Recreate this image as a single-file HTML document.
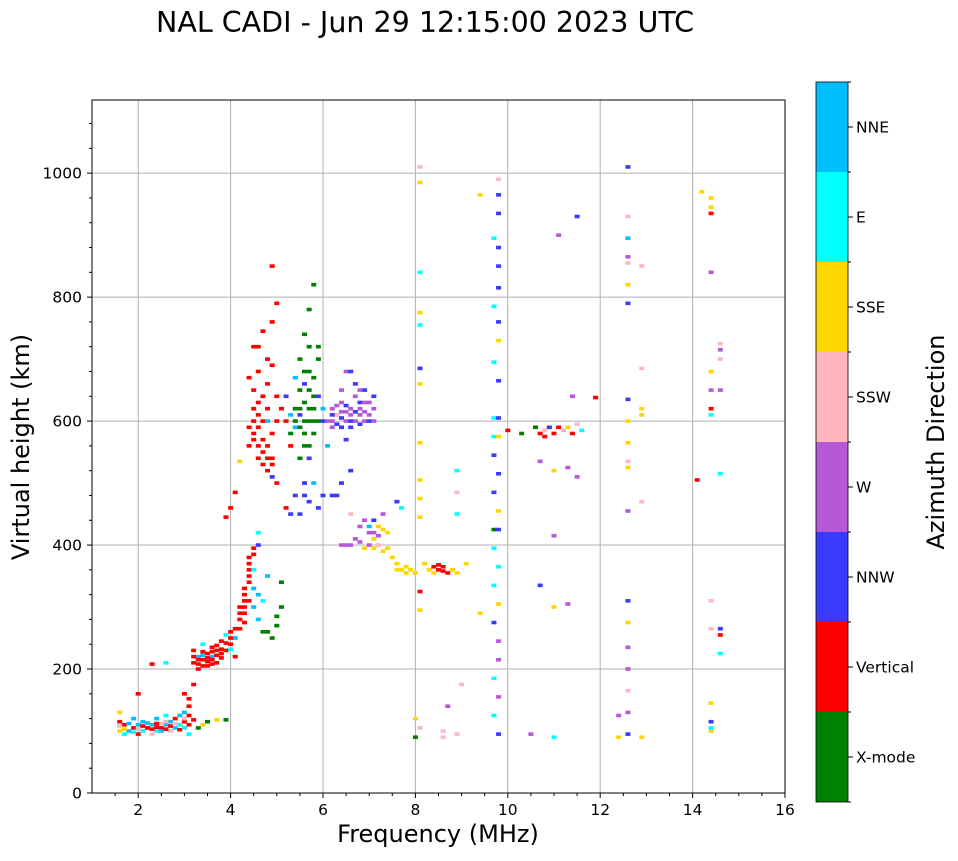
<!DOCTYPE html>
<html><head><meta charset="utf-8"><style>
body{margin:0;background:#fff;width:958px;height:857px;overflow:hidden;font-family:"DejaVu Sans",sans-serif}
</style></head><body>
<svg id="chart" width="958" height="857" xmlns="http://www.w3.org/2000/svg" font-family="DejaVu Sans, Liberation Sans, sans-serif">
<text x="425" y="32" font-size="28.5" text-anchor="middle">NAL CADI - Jun 29 12:15:00 2023 UTC</text>
<g id="grid"></g>
<g id="marks"></g>
<rect x="92" y="100" width="693" height="693" fill="none" stroke="#000" stroke-width="1"/>
<g id="axes"></g>
<text x="438" y="842" font-size="24" text-anchor="middle">Frequency (MHz)</text>
<text x="29" y="447" font-size="24" text-anchor="middle" transform="rotate(-90 29 447)">Virtual height (km)</text>
<g id="cbar"></g>
<text x="944" y="442" font-size="24" text-anchor="middle" transform="rotate(-90 944 442)">Azimuth Direction</text>
</svg>
<script>
const directions=["X-mode","Vertical","NNW","W","SSW","SSE","E","NNE"];
const dirColors=["#008000","#ff0000","#3a3aff","#b559d8","#ffb6c1","#ffd700","#00ffff","#00bfff"];
const xTicks=[2,4,6,8,10,12,14,16];
const yTicks=[0,200,400,600,800,1000];
const lowCluster=[[1.6,100,5],[1.6,115,1],[1.6,130,5],[1.7,95,6],[1.7,110,1],[1.8,100,7],[1.9,105,1],[1.9,120,7],[2.0,95,1],[2.0,110,7],[2.1,100,6],[2.1,115,7],[2.2,105,1],[2.3,110,7],[2.3,95,4],[2.4,100,6],[2.4,120,7],[2.5,105,1],[2.6,110,7],[2.6,125,6],[2.7,100,4],[2.7,115,7],[2.8,120,1],[2.8,105,7],[2.9,125,7],[2.9,110,6],[3.0,130,7],[3.0,115,1],[3.1,140,1],[3.1,95,6],[2.0,160,1],[2.3,208,1],[2.6,210,6],[3.4,110,5],[3.5,115,0],[3.7,118,5],[3.9,118,0],[3.3,105,0],[3.2,175,1],[2.2,105,1],[2.4,106,1],[2.5,112,4],[2.7,108,1],[2.9,102,1],[3.0,120,4],[1.6,108,4],[1.7,103,5],[1.8,112,7],[2.0,103,4],[2.1,108,1],[2.2,113,7],[2.3,103,1],[2.5,100,7],[2.6,103,1],[2.8,112,4],[3.0,105,6],[3.1,110,1],[3.1,125,1],[2.6,115,4],[2.4,112,1],[1.9,98,6],[3.1,152,1],[3.0,160,1],[3.2,118,1]];
const layerF1=[[3.2,210,1],[3.2,230,1],[3.3,200,1],[3.3,220,7],[3.4,215,1],[3.4,240,6],[3.5,205,1],[3.5,225,1],[3.6,220,7],[3.6,235,1],[3.7,210,1],[3.7,230,1],[3.8,225,1],[3.8,245,1],[3.9,230,1],[4.0,240,1],[4.0,260,1],[4.1,220,1],[4.1,250,7],[4.2,265,1],[3.9,255,6],[3.3,215,1],[3.5,212,1],[3.7,222,1],[3.4,228,1],[3.6,208,1],[3.2,220,1],[3.3,208,1],[3.4,205,1],[3.5,218,1],[3.6,228,1],[3.7,238,1],[3.8,232,1],[3.9,242,1],[4.0,250,1],[4.1,265,1],[3.4,222,7],[3.6,215,1],[3.8,218,1],[4.0,232,6]];
const rising=[[4.2,280,1],[4.3,300,1],[4.3,320,1],[4.4,340,1],[4.4,360,1],[4.4,380,1],[4.5,395,1],[4.5,300,7],[4.6,280,7],[4.7,310,6],[4.7,260,0],[4.9,250,0],[5.0,270,0],[5.1,300,0],[4.6,400,2],[4.6,420,6],[4.0,460,1],[3.9,445,1],[4.1,485,1],[4.2,535,5],[4.8,350,7],[5.1,340,0],[4.3,290,1],[4.4,310,1],[4.3,330,1],[4.2,300,1],[4.2,290,1],[4.3,310,1],[4.4,350,1],[4.4,370,1],[4.3,275,1],[4.5,330,7],[4.5,360,6],[4.6,320,7],[4.5,385,1],[4.8,260,0],[5.0,285,0]];
const upperRed=[[4.4,560,1],[4.4,590,1],[4.5,620,1],[4.5,650,1],[4.6,560,1],[4.6,540,1],[4.7,530,1],[4.7,600,1],[4.8,520,1],[4.8,560,1],[4.9,540,1],[4.9,580,1],[4.6,680,1],[4.5,720,1],[4.8,700,1],[4.9,760,1],[4.9,850,1],[5.0,790,1],[5.0,640,1],[4.4,670,1],[4.7,640,1],[5.2,600,1],[5.3,560,1],[5.0,500,1],[4.8,600,7],[4.9,510,2],[4.5,580,1],[4.6,610,1],[4.5,570,1],[4.6,590,1],[4.7,570,1],[4.7,550,1],[4.8,540,1],[4.9,530,1],[4.5,600,1],[4.6,630,1],[4.8,620,1],[5.0,600,1],[4.9,690,1],[4.6,720,1],[4.7,745,1],[5.1,620,1],[4.8,660,1]];
const greenBlue=[[5.3,580,0],[5.4,620,0],[5.5,650,0],[5.6,600,0],[5.6,560,0],[5.7,680,0],[5.7,720,0],[5.8,640,0],[5.8,580,0],[5.9,600,0],[5.9,700,0],[5.5,700,0],[5.6,740,0],[5.7,780,0],[5.8,820,0],[5.5,540,0],[5.4,590,7],[5.5,610,2],[5.6,500,2],[5.4,480,2],[5.5,450,2],[5.7,470,2],[5.8,500,7],[5.9,460,2],[6.0,480,2],[5.3,450,2],[6.0,620,7],[6.1,560,7],[5.2,640,2],[5.3,610,7],[5.2,460,1],[5.4,670,7],[5.6,660,2],[5.7,620,0],[5.8,600,0],[5.6,630,0],[5.5,590,0],[5.6,580,0],[5.7,600,0],[5.7,560,0],[5.8,620,0],[5.6,680,0],[5.7,650,0],[5.8,670,0],[5.9,720,0],[5.5,620,0],[5.4,600,0],[5.9,640,2],[6.0,600,2],[5.7,540,2],[5.6,480,2]];
const purpleF2=[[6.1,600,3],[6.2,620,3],[6.3,610,3],[6.4,630,3],[6.5,600,3],[6.6,620,3],[6.7,640,3],[6.8,610,3],[6.9,600,3],[7.0,630,3],[7.1,620,3],[6.5,680,3],[6.7,660,2],[6.9,650,2],[7.1,640,2],[6.4,590,2],[6.6,600,2],[6.8,630,2],[6.5,570,2],[6.6,520,2],[6.4,500,2],[6.3,480,2],[6.2,480,2],[6.6,680,2],[7.0,600,2],[6.3,610,4],[6.2,600,3],[6.4,615,3],[6.6,610,3],[6.8,620,3],[6.2,590,3],[6.3,625,3],[6.5,615,3],[6.7,600,3],[6.9,615,3],[7.0,610,3],[7.1,600,3],[6.4,605,2],[6.6,590,2],[6.8,595,2],[6.3,595,2],[6.5,625,2],[6.7,615,2],[6.9,630,3],[6.2,610,2],[6.4,650,3],[6.8,650,3]];
const midLayer=[[6.5,400,3],[6.7,410,3],[6.8,430,3],[6.9,440,3],[7.0,420,3],[7.1,410,5],[7.2,430,5],[7.2,400,4],[7.3,450,3],[7.4,420,5],[7.3,390,5],[7.5,380,5],[7.6,370,5],[7.7,360,5],[7.8,355,5],[7.9,360,5],[6.6,450,4],[6.9,395,5],[7.0,430,7],[6.4,400,3],[7.1,440,2],[7.6,470,2],[7.7,460,6],[8.2,370,5],[8.3,360,5],[8.4,365,1],[8.5,360,1],[8.6,365,1],[8.7,355,1],[8.8,360,5],[8.9,355,5],[9.1,370,5],[8.0,355,5],[6.6,400,3],[6.8,405,3],[7.0,400,3],[7.1,420,3],[7.2,415,3],[7.3,425,5],[7.1,395,5],[7.4,395,5],[7.6,360,5],[7.8,365,5],[8.4,355,5],[8.6,358,1],[8.5,368,1]];
const col8=[[8.1,1010,4],[8.1,985,5],[8.1,840,6],[8.1,775,5],[8.1,755,6],[8.1,685,2],[8.1,660,5],[8.1,565,5],[8.1,505,5],[8.1,475,5],[8.1,445,5],[8.1,325,1],[8.1,295,5],[8.0,120,5],[8.0,90,0],[8.1,105,4],[8.6,100,4],[8.9,95,4],[8.6,90,4],[8.9,520,6],[8.9,485,4],[8.9,450,6],[9.4,965,5],[9.0,175,4],[9.4,290,5],[8.7,140,3]];
const col10=[[9.8,990,4],[9.8,965,2],[9.8,935,2],[9.7,895,6],[9.8,880,2],[9.8,850,2],[9.8,815,2],[9.7,785,6],[9.8,760,2],[9.8,730,5],[9.7,695,6],[9.8,665,2],[9.7,605,6],[9.8,605,2],[9.7,575,6],[9.8,575,5],[9.7,545,2],[9.8,515,2],[9.7,485,2],[9.8,455,5],[9.7,425,0],[9.8,425,2],[9.7,395,6],[9.8,365,6],[9.7,335,6],[9.8,305,5],[9.7,275,2],[9.8,245,3],[9.8,215,3],[9.7,185,6],[9.8,155,3],[9.7,125,6],[9.8,95,2]];
const band11=[[10.0,585,1],[10.3,580,0],[10.6,590,0],[10.7,580,1],[10.8,585,4],[10.9,590,2],[11.0,580,1],[11.1,590,1],[11.3,590,5],[11.4,580,1],[11.5,595,4],[11.6,585,6],[11.9,638,1],[11.1,900,3],[11.5,930,2],[10.7,535,3],[11.0,520,5],[11.3,525,3],[11.5,510,3],[11.4,640,3],[10.7,335,2],[11.0,300,5],[11.3,305,3],[11.0,415,3],[10.5,95,3],[11.0,90,6],[10.8,575,1],[11.2,585,4]];
const col12=[[12.6,1010,2],[12.6,930,4],[12.6,895,7],[12.6,865,3],[12.6,855,4],[12.6,820,5],[12.6,790,2],[12.6,635,2],[12.6,600,5],[12.6,565,5],[12.6,535,4],[12.6,525,5],[12.6,455,3],[12.6,310,2],[12.6,275,5],[12.6,235,3],[12.6,200,3],[12.6,165,4],[12.6,130,3],[12.4,125,3],[12.6,95,2],[12.4,90,5],[12.9,90,5],[12.9,620,5],[12.9,610,5],[12.9,685,4],[12.9,470,4],[12.9,850,4]];
const col14=[[14.2,970,5],[14.4,960,5],[14.4,945,5],[14.4,935,1],[14.4,840,3],[14.6,725,4],[14.6,715,3],[14.6,700,4],[14.4,680,5],[14.4,650,3],[14.4,620,1],[14.4,610,6],[14.6,515,6],[14.1,505,1],[14.6,265,2],[14.6,255,1],[14.4,265,4],[14.6,225,6],[14.4,145,5],[14.4,115,2],[14.4,100,5],[14.4,105,6],[14.4,310,4],[14.6,650,3]];
const allPoints=[].concat(lowCluster,layerF1,rising,upperRed,greenBlue,purpleF2,midLayer,col8,col10,band11,col12,col14);

const NS="http://www.w3.org/2000/svg";
const X0=92,X1=785,Y0=793,Y1=100,FMIN=1,FMAX=16,HMIN=0,HMAX=1118;
function xs(f){return X0+(f-FMIN)/(FMAX-FMIN)*(X1-X0);}
function ys(h){return Y0-(h-HMIN)/(HMAX-HMIN)*(Y0-Y1);}
function mk(tag,attrs,parent){const e=document.createElementNS(NS,tag);for(const k in attrs)e.setAttribute(k,attrs[k]);parent.appendChild(e);return e;}
const grid=document.getElementById('grid'),axes=document.getElementById('axes'),marks=document.getElementById('marks'),cbar=document.getElementById('cbar');
xTicks.forEach(t=>{
  const x=xs(t);
  const g=mk('line',{x1:x,x2:x,y1:Y1,y2:Y0,stroke:'#b0b0b0','stroke-width':1},grid);
  
  
  mk('line',{x1:x,x2:x,y1:Y0,y2:Y0+5,stroke:'#000'},axes);
  const lb=mk('text',{x:x,y:Y0+22,'font-size':15.5,'text-anchor':'middle'},axes);
  lb.textContent=t;
  
  
});
for(let f=1.5;f<16;f+=0.5){if(Math.abs(f-Math.round(f/2)*2)<0.01)continue;const x=xs(f);mk('line',{x1:x,x2:x,y1:Y0,y2:Y0+3,stroke:'#000'},axes);}
yTicks.forEach(t=>{
  const y=ys(t);
  const g=mk('line',{x1:X0,x2:X1,y1:y,y2:y,stroke:'#b0b0b0','stroke-width':1},grid);
  
  
  mk('line',{x1:X0-5,x2:X0,y1:y,y2:y,stroke:'#000'},axes);
  const lb=mk('text',{x:X0-10,y:y+5.5,'font-size':15.5,'text-anchor':'end'},axes);
  lb.textContent=t;
  
  
});
for(let h=40;h<HMAX;h+=40){if(h%200===0)continue;const y=ys(h);mk('line',{x1:X0-3,x2:X0,y1:y,y2:y,stroke:'#000'},axes);}
allPoints.forEach(p=>{
  const r=mk('rect',{x:xs(p[0])-2.5,y:ys(p[1])-1.8,width:5,height:3.6,fill:dirColors[p[2]]},marks);
  
  
});
const CB0=802,CB1=82,cx=816,cw=32,seg=(CB0-CB1)/directions.length;
directions.forEach((d,i)=>{
  const y=CB0-(i+1)*seg;
  const r=mk('rect',{x:cx,y:y,width:cw,height:seg,fill:dirColors[i]},cbar);
  
  
  const yc=y+seg/2;
  mk('line',{x1:cx+cw,x2:cx+cw+5,y1:yc,y2:yc,stroke:'#000'},cbar);
  const t=mk('text',{x:cx+cw+8,y:yc+5.5,'font-size':15.5},cbar);
  t.textContent=d;
  
  
});
for(let i=0;i<=directions.length;i++){const y=CB0-i*seg;mk('line',{x1:cx+cw,x2:cx+cw+3,y1:y,y2:y,stroke:'#000'},cbar);}
mk('rect',{x:cx,y:CB1,width:cw,height:CB0-CB1,fill:'none',stroke:'#000','stroke-width':0.8},cbar);
</script>
</body></html>
